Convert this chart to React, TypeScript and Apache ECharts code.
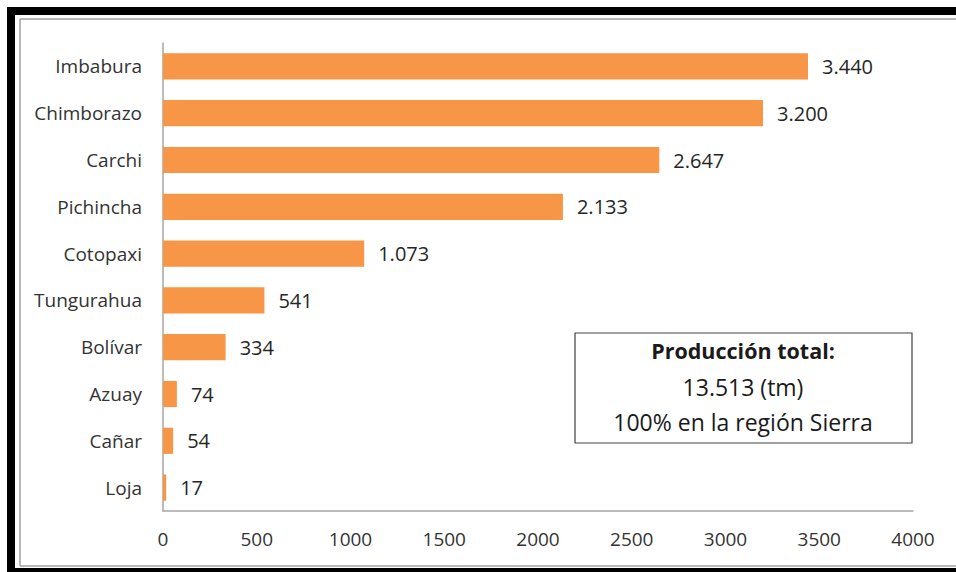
import React, { useEffect, useRef } from "react";
import * as echarts from "echarts";

const provinces = ["Imbabura", "Chimborazo", "Carchi", "Pichincha", "Cotopaxi", "Tungurahua", "Bolívar", "Azuay", "Cañar", "Loja"];
const production = [3440, 3200, 2647, 2133, 1073, 541, 334, 74, 54, 17];
const xTicks = { min: 0, max: 4000, interval: 500 };
const boxLines = ["Producción total:", "13.513 (tm)", "100% en la región Sierra"];

const FONT = "'Open Sans', 'Noto Sans', sans-serif";

function formatThousands(v: number): string {
  return String(v).replace(/\B(?=(\d{3})+(?!\d))/g, ".");
}

export default function App() {
  const ref = useRef<HTMLDivElement>(null);
  useEffect(() => {
    if (!ref.current) return;
    const chart = echarts.init(ref.current, undefined, { renderer: "svg" });
    chart.setOption({
      animation: false,
      backgroundColor: "#ffffff",
      grid: { left: 163, top: 43, right: 43, bottom: 61, containLabel: false },
      xAxis: {
        type: "value",
        min: xTicks.min,
        max: xTicks.max,
        interval: xTicks.interval,
        axisLine: { show: true, lineStyle: { color: "#a6a6a6", width: 1.5 } },
        axisTick: { show: false },
        splitLine: { show: false },
        axisLabel: {
          margin: 18,
          fontSize: 19,
          color: "#333333",
          fontFamily: FONT,
          formatter: (v: number) => String(v),
        },
      },
      yAxis: {
        type: "category",
        data: provinces,
        inverse: true,
        axisLine: { show: true, lineStyle: { color: "#a6a6a6", width: 1.5 } },
        axisTick: { show: false },
        axisLabel: { margin: 21, fontSize: 19, color: "#333333", fontFamily: FONT },
      },
      series: [
        {
          type: "bar",
          data: production,
          barWidth: "56%",
          itemStyle: { color: "#F79646" },
          label: {
            show: true,
            position: "right",
            distance: 14,
            fontSize: 20,
            color: "#262626",
            fontFamily: FONT,
            formatter: (p: any) => formatThousands(p.value),
          },
        },
      ],
      graphic: [
        { type: "line", shape: { x1: 7, y1: 11, x2: 956, y2: 11 }, style: { stroke: "#000000", lineWidth: 8 }, silent: true },
        { type: "line", shape: { x1: 11, y1: 7, x2: 11, y2: 572 }, style: { stroke: "#000000", lineWidth: 8 }, silent: true },
        { type: "line", shape: { x1: 7, y1: 571, x2: 956, y2: 571 }, style: { stroke: "#000000", lineWidth: 6 }, silent: true },
        { type: "line", shape: { x1: 20, y1: 19, x2: 956, y2: 19 }, style: { stroke: "#a0a0a0", lineWidth: 1.5 }, silent: true },
        { type: "line", shape: { x1: 20, y1: 19, x2: 20, y2: 566 }, style: { stroke: "#a0a0a0", lineWidth: 1.5 }, silent: true },
        { type: "line", shape: { x1: 20, y1: 566, x2: 956, y2: 566 }, style: { stroke: "#a0a0a0", lineWidth: 1.5 }, silent: true },
        {
          type: "rect",
          shape: { x: 575, y: 333, width: 337, height: 110 },
          style: { fill: "#ffffff", stroke: "#404040", lineWidth: 1.2 },
          silent: true,
        },
        {
          type: "text",
          x: 743,
          y: 350,
          style: { text: boxLines[0], fontSize: 21.5, fontWeight: "bold", fill: "#1a1a1a", fontFamily: FONT, align: "center", verticalAlign: "middle" },
          silent: true,
        },
        {
          type: "text",
          x: 743,
          y: 387,
          style: { text: boxLines[1], fontSize: 23, fill: "#1a1a1a", fontFamily: FONT, align: "center", verticalAlign: "middle" },
          silent: true,
        },
        {
          type: "text",
          x: 743,
          y: 422,
          style: { text: boxLines[2], fontSize: 23, fill: "#1a1a1a", fontFamily: FONT, align: "center", verticalAlign: "middle" },
          silent: true,
        },
      ],
    });
    return () => chart.dispose();
  }, []);
  return (
    <div
      ref={ref}
      style={{ position: "fixed", left: 0, top: 0, width: 956, height: 572, background: "#fff" }}
    />
  );
}
